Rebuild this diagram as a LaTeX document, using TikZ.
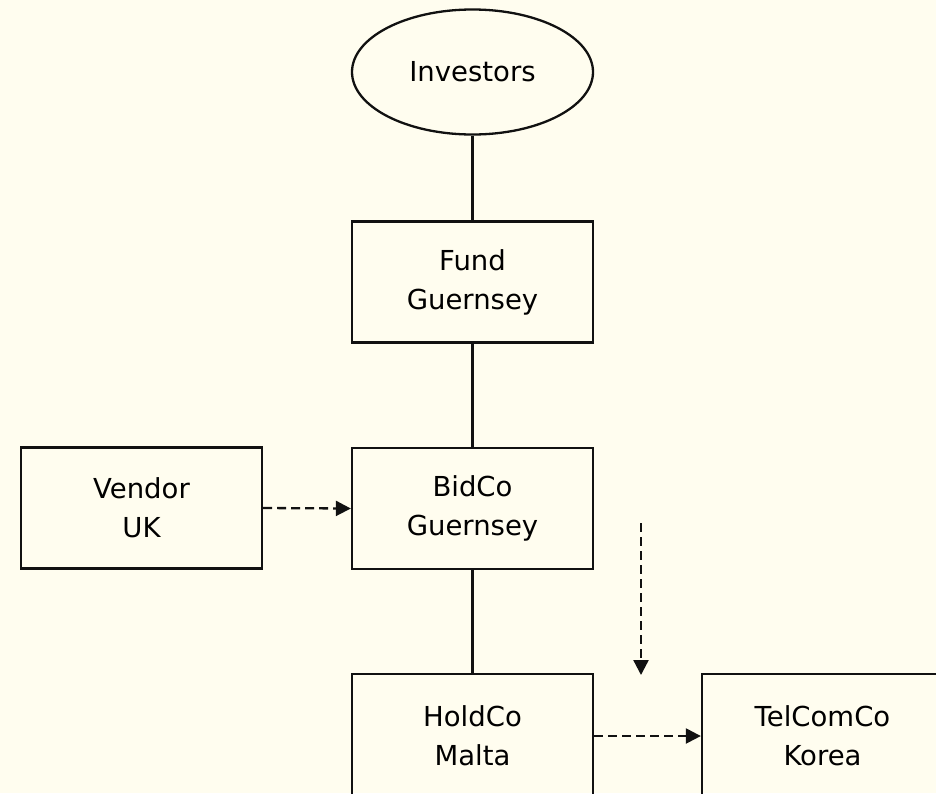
\documentclass[tikz,border=0pt]{standalone}
\usepackage{fontspec}
\setmainfont{DejaVu Sans}
\usetikzlibrary{shapes.geometric,arrows.meta}
\definecolor{paper}{HTML}{FFFDEF}
\definecolor{ink}{HTML}{111111}
\tikzset{
  every node/.style={font=\fontsize{27.5}{39}\selectfont, text=black},
  entity/.style={draw=ink, line width=2.3pt, rectangle, minimum width=241pt,
    minimum height=121pt, inner sep=0pt, align=center},
  lowentity/.style={entity, minimum height=124pt},
  holder/.style={draw=ink, line width=2.3pt, ellipse, minimum width=241pt,
    minimum height=125pt, inner sep=0pt},
  owns/.style={draw=ink, line width=2.3pt},
  flow/.style={draw=ink, line width=2.3pt, dash pattern=on 9pt off 5pt,
    -{Triangle[length=15pt,width=15pt]}}
}
\begin{document}
\begin{tikzpicture}[x=1pt, y=-1pt]
  % page area and background
  \fill[paper] (0,0) rectangle (936,793);
  \useasboundingbox (0,0) rectangle (936,793);
  \clip (0,0) rectangle (936,793);

  % entities
  \node[holder] (investors) at (472.5,72) {Investors};
  \node[entity] (fund) at (472.5,282) {Fund\\Guernsey};
  \node[entity] (bidco) at (472.5,508.5) {BidCo\\Guernsey};
  \node[entity] (vendor) at (141.5,508) {Vendor\\UK};
  \node[lowentity] (holdco) at (472.5,736) {HoldCo\\Malta};
  \node[lowentity] (telcomco) at (822.5,736) {TelComCo\\Korea};

  % ownership lines
  \draw[owns] (investors.south) -- (fund.north);
  \draw[owns] (fund.south) -- (bidco.north);
  \draw[owns] (bidco.south) -- (holdco.north);

  % transfers
  \draw[flow] (vendor.east) -- (bidco.west);
  \draw[flow] (holdco.east) -- (telcomco.west);
  \coordinate (dropstart) at (641,523);
  \coordinate (dropend) at (641,675);
  \draw[flow] (dropstart) -- (dropend);
\end{tikzpicture}
\end{document}
